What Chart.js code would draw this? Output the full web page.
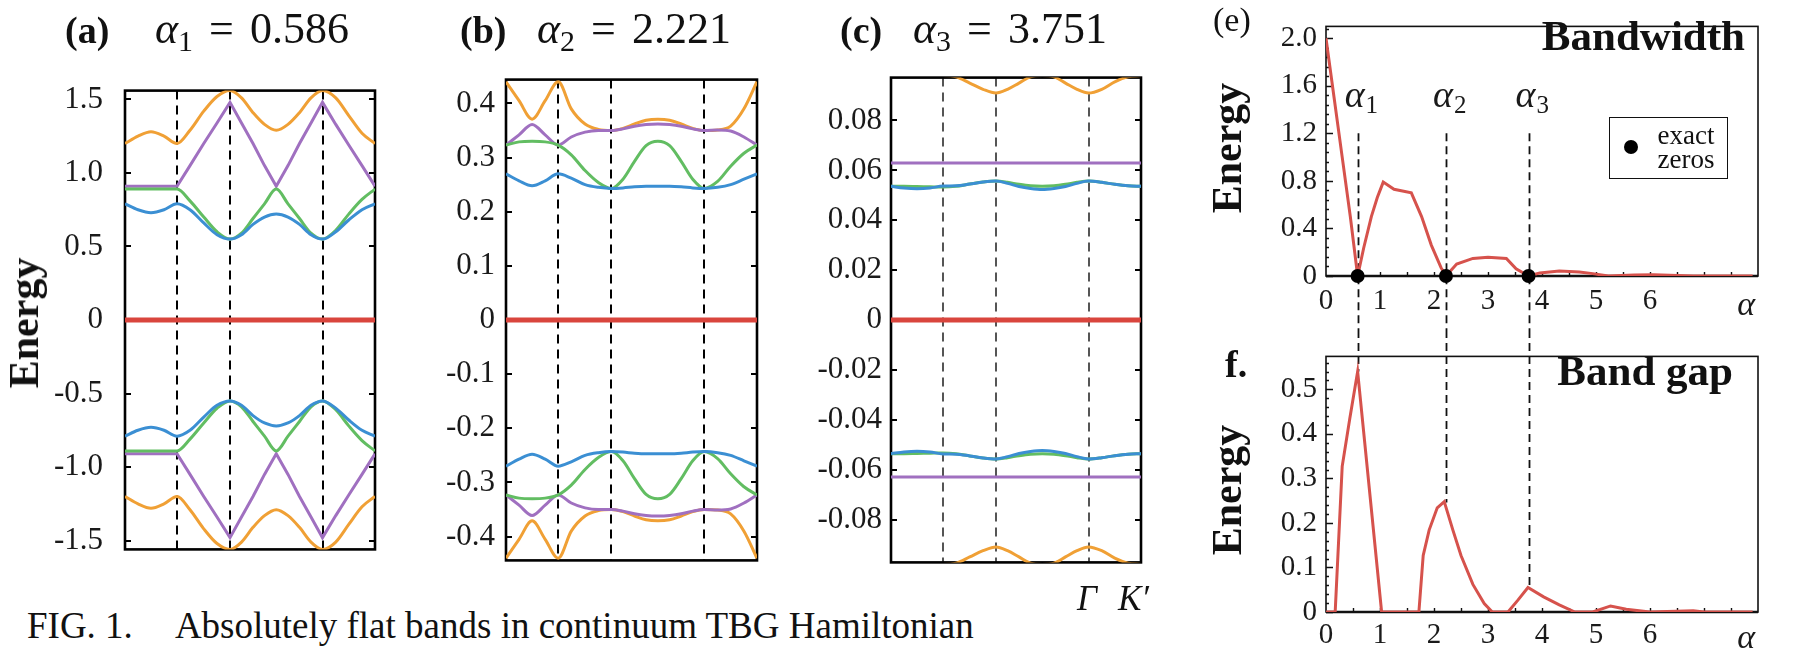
<!DOCTYPE html>
<html>
<head>
<meta charset="utf-8">
<script src="https://cdn.jsdelivr.net/npm/chart.js@4.4.0/dist/chart.umd.min.js"></script>
<style>
  body { margin: 0; background: #fff; }
  #fig { position: relative; width: 1799px; height: 650px; overflow: hidden; background: #fff;
         font-family: "Liberation Serif", "DejaVu Serif", serif; color: #111; }
  canvas { position: absolute; }
  .t { position: absolute; line-height: 1; white-space: nowrap; }
  .b { font-weight: bold; }
  .sub { font-size: 0.68em; position: relative; top: 0.28em; font-style: normal; }
  .vlab { font-weight: bold; font-size: 42px; transform: translate(-50%, -50%) rotate(-90deg); }
  #legend { position: absolute; left: 1609px; top: 117px; width: 119px; height: 62px;
            border: 1.6px solid #111; box-sizing: border-box; }
  #legend .dot { position: absolute; left: 14px; top: 22px; width: 14px; height: 14px; border-radius: 50%; background: #000; }
  #legend .txt { position: absolute; left: 42px; top: 5px; width: 68px; text-align: center; font-size: 27px; line-height: 24px; }
</style>
</head>
<body>
<div id="fig">
  <canvas id="cA" width="395" height="540" style="left:0;top:50px"></canvas>
  <canvas id="cB" width="390" height="540" style="left:395px;top:50px"></canvas>
  <canvas id="cC" width="400" height="540" style="left:785px;top:50px"></canvas>
  <canvas id="cE" width="614" height="330" style="left:1185px;top:0"></canvas>
  <canvas id="cF" width="614" height="320" style="left:1185px;top:330px"></canvas>

  <div class="t b" style="left:65px;top:11px;font-size:38px">(a)</div>
  <div class="t" style="left:155px;top:7px;font-size:44px"><i>α</i><span class="sub">1</span><span style="margin:0 16px">=</span>0.586</div>
  <div class="t b" style="left:460px;top:11px;font-size:38px">(b)</div>
  <div class="t" style="left:537px;top:7px;font-size:44px"><i>α</i><span class="sub">2</span><span style="margin:0 16px">=</span>2.221</div>
  <div class="t b" style="left:840px;top:11px;font-size:38px">(c)</div>
  <div class="t" style="left:913px;top:7px;font-size:44px"><i>α</i><span class="sub">3</span><span style="margin:0 16px">=</span>3.751</div>

  <div class="t vlab" style="left:24px;top:323px">Energy</div>
  <div class="t vlab" style="left:1227px;top:148px">Energy</div>
  <div class="t vlab" style="left:1227px;top:490px">Energy</div>

  <div class="t" style="left:1077px;top:581px;font-size:35px;font-style:italic">Γ</div>
  <div class="t" style="left:1118px;top:581px;font-size:35px;font-style:italic">K′</div>

  <div class="t" style="left:1213px;top:3px;font-size:34px">(e)</div>
  <div class="t b" style="right:54px;top:14px;font-size:43px">Bandwidth</div>
  <div class="t b" style="left:1225px;top:345px;font-size:38px">f.</div>
  <div class="t b" style="right:66px;top:349px;font-size:43px">Band gap</div>
  <div id="legend"><div class="dot"></div><div class="txt">exact<br>zeros</div></div>

  <div class="t" style="left:27px;top:607px;font-size:37px">FIG. 1.<span style="margin-left:42px">Absolutely flat bands in continuum TBG Hamiltonian</span></div>
</div>

<script>
// k-path coordinate (fraction of path) shared by the three band panels
const kPath = [0, 0.052, 0.104, 0.156, 0.208, 0.26, 0.315, 0.368, 0.42, 0.466, 0.512, 0.558, 0.605, 0.652, 0.698, 0.744, 0.79, 0.843, 0.895, 0.948, 1.0];
const kDashes = [0.208, 0.42, 0.79];
const flatBand = [0, 0, 0, 0, 0, 0, 0, 0, 0, 0, 0, 0, 0, 0, 0, 0, 0, 0, 0, 0, 0];

// (a) alpha1 = 0.586
const orangeUpA = [1.20, 1.25, 1.28, 1.25, 1.20, 1.29, 1.42, 1.52, 1.56, 1.51, 1.41, 1.33, 1.29, 1.33, 1.41, 1.51, 1.56, 1.51, 1.39, 1.27, 1.20];
const purpleUpA = [0.91, 0.91, 0.91, 0.91, 0.91, 1.05, 1.20, 1.34, 1.48, 1.34, 1.20, 1.05, 0.91, 1.05, 1.20, 1.34, 1.48, 1.33, 1.19, 1.05, 0.91];
const greenUpA = [0.89, 0.89, 0.89, 0.89, 0.89, 0.81, 0.70, 0.60, 0.55, 0.59, 0.69, 0.79, 0.89, 0.79, 0.69, 0.59, 0.55, 0.61, 0.72, 0.82, 0.89];
const blueUpA = [0.79, 0.75, 0.73, 0.75, 0.79, 0.75, 0.66, 0.58, 0.55, 0.58, 0.65, 0.70, 0.72, 0.70, 0.65, 0.58, 0.55, 0.60, 0.68, 0.75, 0.79];
const blueDnA = [-0.79, -0.75, -0.73, -0.75, -0.79, -0.75, -0.66, -0.58, -0.55, -0.58, -0.65, -0.70, -0.72, -0.70, -0.65, -0.58, -0.55, -0.60, -0.68, -0.75, -0.79];
const greenDnA = [-0.89, -0.89, -0.89, -0.89, -0.89, -0.81, -0.70, -0.60, -0.55, -0.59, -0.69, -0.79, -0.89, -0.79, -0.69, -0.59, -0.55, -0.61, -0.72, -0.82, -0.89];
const purpleDnA = [-0.91, -0.91, -0.91, -0.91, -0.91, -1.05, -1.20, -1.34, -1.48, -1.34, -1.20, -1.05, -0.91, -1.05, -1.20, -1.34, -1.48, -1.33, -1.19, -1.05, -0.91];
const orangeDnA = [-1.20, -1.25, -1.28, -1.25, -1.20, -1.29, -1.42, -1.52, -1.56, -1.51, -1.41, -1.33, -1.29, -1.33, -1.41, -1.51, -1.56, -1.51, -1.39, -1.27, -1.20];
const yTicksA = [-1.5, -1.0, -0.5, 0, 0.5, 1.0, 1.5];
const yLabelsA = ['-1.5', '-1.0', '-0.5', '0', '0.5', '1.0', '1.5'];

// (b) alpha2 = 2.221
const orangeUpB = [0.44, 0.405, 0.371, 0.405, 0.44, 0.39, 0.362, 0.352, 0.35, 0.354, 0.362, 0.369, 0.371, 0.369, 0.362, 0.354, 0.35, 0.351, 0.358, 0.39, 0.44];
const purpleUpB = [0.323, 0.342, 0.361, 0.342, 0.323, 0.338, 0.347, 0.35, 0.35, 0.353, 0.358, 0.361, 0.362, 0.361, 0.358, 0.353, 0.35, 0.351, 0.349, 0.338, 0.323];
const greenUpB = [0.323, 0.329, 0.33, 0.329, 0.323, 0.305, 0.276, 0.254, 0.243, 0.26, 0.293, 0.322, 0.33, 0.322, 0.293, 0.26, 0.243, 0.256, 0.284, 0.308, 0.323];
const blueUpB = [0.27, 0.257, 0.248, 0.257, 0.27, 0.262, 0.25, 0.245, 0.243, 0.244, 0.246, 0.247, 0.247, 0.247, 0.246, 0.244, 0.243, 0.245, 0.25, 0.26, 0.27];
const blueDnB = [-0.27, -0.257, -0.248, -0.257, -0.27, -0.262, -0.25, -0.245, -0.243, -0.244, -0.246, -0.247, -0.247, -0.247, -0.246, -0.244, -0.243, -0.245, -0.25, -0.26, -0.27];
const greenDnB = [-0.323, -0.329, -0.33, -0.329, -0.323, -0.305, -0.276, -0.254, -0.243, -0.26, -0.293, -0.322, -0.33, -0.322, -0.293, -0.26, -0.243, -0.256, -0.284, -0.308, -0.323];
const purpleDnB = [-0.323, -0.342, -0.361, -0.342, -0.323, -0.338, -0.347, -0.35, -0.35, -0.353, -0.358, -0.361, -0.362, -0.361, -0.358, -0.353, -0.35, -0.351, -0.349, -0.338, -0.323];
const orangeDnB = [-0.44, -0.405, -0.371, -0.405, -0.44, -0.39, -0.362, -0.352, -0.35, -0.354, -0.362, -0.369, -0.371, -0.369, -0.362, -0.354, -0.35, -0.351, -0.358, -0.39, -0.44];
const yTicksB = [-0.4, -0.3, -0.2, -0.1, 0, 0.1, 0.2, 0.3, 0.4];
const yLabelsB = ['-0.4', '-0.3', '-0.2', '-0.1', '0', '0.1', '0.2', '0.3', '0.4'];

// (c) alpha3 = 3.751
const orangeUpC = [0.098, 0.098, 0.098, 0.098, 0.098, 0.0975, 0.095, 0.0925, 0.091, 0.0925, 0.095, 0.0975, 0.098, 0.0975, 0.095, 0.0925, 0.091, 0.0925, 0.0955, 0.0975, 0.098];
const purpleUpC = [0.063, 0.063, 0.063, 0.063, 0.063, 0.063, 0.063, 0.063, 0.063, 0.063, 0.063, 0.063, 0.063, 0.063, 0.063, 0.063, 0.063, 0.063, 0.063, 0.063, 0.063];
const greenUpC = [0.0536, 0.0536, 0.0535, 0.0534, 0.0533, 0.0536, 0.0545, 0.0553, 0.0557, 0.0552, 0.0544, 0.0538, 0.0536, 0.0538, 0.0544, 0.0552, 0.0557, 0.0552, 0.0544, 0.0538, 0.0536];
const blueUpC = [0.0536, 0.0529, 0.0526, 0.0529, 0.0537, 0.0538, 0.0545, 0.0553, 0.0557, 0.0548, 0.0535, 0.0527, 0.0523, 0.0527, 0.0535, 0.0548, 0.0557, 0.0552, 0.0544, 0.0538, 0.0536];
const blueDnC = [-0.0536, -0.0529, -0.0526, -0.0529, -0.0537, -0.0538, -0.0545, -0.0553, -0.0557, -0.0548, -0.0535, -0.0527, -0.0523, -0.0527, -0.0535, -0.0548, -0.0557, -0.0552, -0.0544, -0.0538, -0.0536];
const greenDnC = [-0.0536, -0.0536, -0.0535, -0.0534, -0.0533, -0.0536, -0.0545, -0.0553, -0.0557, -0.0552, -0.0544, -0.0538, -0.0536, -0.0538, -0.0544, -0.0552, -0.0557, -0.0552, -0.0544, -0.0538, -0.0536];
const purpleDnC = [-0.063, -0.063, -0.063, -0.063, -0.063, -0.063, -0.063, -0.063, -0.063, -0.063, -0.063, -0.063, -0.063, -0.063, -0.063, -0.063, -0.063, -0.063, -0.063, -0.063, -0.063];
const orangeDnC = [-0.098, -0.098, -0.098, -0.098, -0.098, -0.0975, -0.095, -0.0925, -0.091, -0.0925, -0.095, -0.0975, -0.098, -0.0975, -0.095, -0.0925, -0.091, -0.0925, -0.0955, -0.0975, -0.098];
const yTicksC = [-0.08, -0.06, -0.04, -0.02, 0, 0.02, 0.04, 0.06, 0.08];
const yLabelsC = ['-0.08', '-0.06', '-0.04', '-0.02', '0', '0.02', '0.04', '0.06', '0.08'];

// (e) bandwidth and (f) band gap vs alpha
const alphaBW = [0, 0.15, 0.3, 0.45, 0.586, 0.7, 0.84, 0.95, 1.06, 1.26, 1.58, 1.77, 1.95, 2.13, 2.221, 2.42, 2.72, 3.0, 3.34, 3.52, 3.751, 3.96, 4.32, 4.69, 4.94, 5.23, 5.71, 6.07, 6.8, 7.9];
const bandwidth = [2.0, 1.50, 1.00, 0.50, 0.0, 0.24, 0.50, 0.66, 0.79, 0.73, 0.70, 0.50, 0.26, 0.07, 0.0, 0.10, 0.148, 0.158, 0.148, 0.06, 0.0, 0.026, 0.042, 0.034, 0.02, 0.0, 0.008, 0.01, 0.0, 0.0];
const alphaGap = [0, 0.17, 0.3, 0.44, 0.586, 1.03, 1.72, 1.80, 1.91, 2.06, 2.19, 2.35, 2.5, 2.72, 2.93, 3.08, 3.37, 3.55, 3.74, 4.03, 4.32, 4.61, 4.94, 5.27, 5.56, 6.0, 6.8, 7.0, 7.9];
const bandGap = [0, 0, 0.327, 0.434, 0.54, 0, 0, 0.127, 0.184, 0.234, 0.248, 0.184, 0.127, 0.062, 0.019, 0, 0, 0.026, 0.055, 0.034, 0.016, 0, 0, 0.0136, 0.006, 0, 0.003, 0, 0];
const zerosAlpha = [0.586, 2.221, 3.751];
const gapAtZeros = [0.54, 0.246, 0.053];
const alphaTicks = [0, 1, 2, 3, 4, 5, 6];
const alphaTickLabels = ['0', '1', '2', '3', '4', '5', '6'];
const yTicksE = [0, 0.4, 0.8, 1.2, 1.6, 2.0];
const yLabelsE = ['0', '0.4', '0.8', '1.2', '1.6', '2.0'];
const yTicksF = [0, 0.1, 0.2, 0.3, 0.4, 0.5];
const yLabelsF = ['0', '0.1', '0.2', '0.3', '0.4', '0.5'];

const ORANGE = '#f0a035', PURPLE = '#a070c0', GREEN = '#62bd62', BLUE = '#3b8fd3', RED = '#d9453d', CURVE = '#d6524c';
const SERIF = 'Liberation Serif';

function bandSet(ys, color, width, straight) {
  return {
    data: kPath.map((k, i) => ({ x: k, y: ys[i] })),
    borderColor: color,
    borderWidth: width,
    pointRadius: 0,
    fill: false,
    tension: 0,
    cubicInterpolationMode: straight ? 'default' : 'monotone'
  };
}

function yAxis(min, max, ticks, labels, width, pad, size) {
  return {
    type: 'linear', min: min, max: max,
    afterBuildTicks: s => { s.ticks = ticks.map(v => ({ value: v })); },
    afterFit: s => { s.width = width; },
    grid: { display: false, drawTicks: false },
    border: { display: false },
    ticks: { autoSkip: false, padding: pad, color: '#1a1a1a', font: { family: SERIF, size: size },
             callback: (v, i) => labels[i] }
  };
}

// frame, inward ticks on both sides and the dashed high-symmetry lines
function bandFrame(dashColor) {
  return {
    id: 'bandFrame',
    beforeDatasetsDraw(chart) {
      const { ctx, chartArea: a, scales: { x, y } } = chart;
      ctx.save();
      ctx.strokeStyle = dashColor;
      ctx.lineWidth = 2;
      ctx.setLineDash([9, 6]);
      kDashes.forEach(k => {
        const px = Math.round(x.getPixelForValue(k));
        ctx.beginPath(); ctx.moveTo(px, a.top); ctx.lineTo(px, a.bottom); ctx.stroke();
      });
      ctx.setLineDash([]);
      ctx.strokeStyle = '#000';
      ctx.lineWidth = 1.8;
      y.ticks.forEach(t => {
        const py = Math.round(y.getPixelForValue(t.value));
        ctx.beginPath();
        ctx.moveTo(a.left, py); ctx.lineTo(a.left + 6, py);
        ctx.moveTo(a.right, py); ctx.lineTo(a.right - 6, py);
        ctx.stroke();
      });
      ctx.lineWidth = 2.6;
      ctx.strokeRect(a.left, a.top, a.right - a.left, a.bottom - a.top);
      ctx.restore();
    }
  };
}

function bandChart(id, bands, yMax, ticks, labels, axisW, pad, padRight, dashColor, purpleStraight) {
  const [oU, pU, gU, bU, bD, gD, pD, oD] = bands;
  return new Chart(document.getElementById(id), {
    type: 'line',
    data: {
      datasets: [
        bandSet(flatBand, RED, 5, true),
        bandSet(bU, BLUE, 3), bandSet(bD, BLUE, 3),
        bandSet(gU, GREEN, 3), bandSet(gD, GREEN, 3),
        bandSet(pU, PURPLE, 3, purpleStraight), bandSet(pD, PURPLE, 3, purpleStraight),
        bandSet(oU, ORANGE, 3), bandSet(oD, ORANGE, 3)
      ]
    },
    options: {
      responsive: false, animation: false, devicePixelRatio: 1, events: [],
      layout: { padding: { top: 22, bottom: 15, left: 0, right: padRight } },
      plugins: { legend: { display: false }, tooltip: { enabled: false } },
      scales: {
        x: { type: 'linear', min: 0, max: 1, display: false },
        y: yAxis(-yMax, yMax, ticks, labels, axisW, pad, 31)
      }
    },
    plugins: [bandFrame(dashColor)]
  });
}

bandChart('cA', [orangeUpA, purpleUpA, greenUpA, blueUpA, blueDnA, greenDnA, purpleDnA, orangeDnA],
          1.56, yTicksA, yLabelsA, 125, 22, 20, '#000', true);
bandChart('cB', [orangeUpB, purpleUpB, greenUpB, blueUpB, blueDnB, greenDnB, purpleDnB, orangeDnB],
          0.444, yTicksB, yLabelsB, 111, 11, 28, '#000', false);
bandChart('cC', [orangeUpC, purpleUpC, greenUpC, blueUpC, blueDnC, greenDnC, purpleDnC, orangeDnC],
          0.0972, yTicksC, yLabelsC, 106, 9, 44, '#555', false);

// panels (e) and (f)
function alphaFrame(minorStep, dashFrom, dashTo, withLabels) {
  return {
    id: 'alphaFrame',
    beforeDatasetsDraw(chart) {
      const { ctx, chartArea: a, scales: { x, y } } = chart;
      ctx.save();
      ctx.strokeStyle = '#111';
      ctx.lineWidth = 1.6;
      ctx.strokeRect(a.left, a.top, a.right - a.left, a.bottom - a.top);
      ctx.lineWidth = 2.4;
      ctx.beginPath(); ctx.moveTo(a.left, a.bottom); ctx.lineTo(a.right, a.bottom); ctx.stroke();
      ctx.lineWidth = 1.4;
      ctx.beginPath();
      for (let v = 0; v <= y.max + 1e-9; v += minorStep) {
        const py = Math.round(y.getPixelForValue(v)) + 0.5;
        ctx.moveTo(a.left, py); ctx.lineTo(a.left + 3, py);
      }
      y.ticks.forEach(t => {
        const py = Math.round(y.getPixelForValue(t.value)) + 0.5;
        ctx.moveTo(a.left, py); ctx.lineTo(a.left + 7, py);
      });
      for (let v = 0.5; v < x.max; v += 0.5) {
        const px = Math.round(x.getPixelForValue(v)) + 0.5;
        ctx.moveTo(px, a.bottom); ctx.lineTo(px, a.bottom - 4);
      }
      ctx.stroke();
      ctx.lineWidth = 1.8;
      ctx.setLineDash([8, 5]);
      zerosAlpha.forEach((al, i) => {
        const px = Math.round(x.getPixelForValue(al)) + 0.5;
        ctx.beginPath(); ctx.moveTo(px, dashFrom(chart, i)); ctx.lineTo(px, dashTo(chart, i)); ctx.stroke();
      });
      ctx.restore();
    },
    afterDatasetsDraw(chart) {
      const { ctx, chartArea: a, scales: { x, y } } = chart;
      ctx.save();
      ctx.fillStyle = '#1a1a1a';
      ctx.textBaseline = 'alphabetic';
      ctx.font = 'italic 34px "' + SERIF + '"';
      ctx.textAlign = 'center';
      ctx.fillText('α', x.getPixelForValue(7.78), a.bottom + 39 - (chart.canvas.id === 'cF' ? 3 : 0));
      if (withLabels) {
        zerosAlpha.forEach((al, i) => {
          const px = x.getPixelForValue(al);
          ctx.textAlign = 'left';
          ctx.font = 'italic 38px "' + SERIF + '"';
          ctx.fillText('α', px - 13, 107);
          const w = ctx.measureText('α').width;
          ctx.font = '25px "' + SERIF + '"';
          ctx.fillText(String(i + 1), px - 13 + w + 1, 113);
        });
      }
      ctx.restore();
    }
  };
}

function alphaX(height, pad) {
  return {
    type: 'linear', min: 0, max: 8,
    afterBuildTicks: s => { s.ticks = alphaTicks.map(v => ({ value: v })); },
    afterFit: s => { s.height = height; },
    grid: { display: false, drawTicks: false },
    border: { display: false },
    ticks: { autoSkip: false, maxRotation: 0, padding: pad, color: '#1a1a1a', font: { family: SERIF, size: 29 },
             callback: (v, i) => alphaTickLabels[i] }
  };
}

new Chart(document.getElementById('cE'), {
  type: 'line',
  data: {
    datasets: [
      { data: zerosAlpha.map(a => ({ x: a, y: 0 })), showLine: false, pointRadius: 7, pointBorderWidth: 0,
        pointBackgroundColor: '#000', clip: false },
      { data: alphaBW.map((a, i) => ({ x: a, y: bandwidth[i] })), borderColor: CURVE, borderWidth: 3,
        pointRadius: 0, tension: 0, fill: false }
    ]
  },
  options: {
    responsive: false, animation: false, devicePixelRatio: 1, events: [],
    layout: { padding: { top: 11, bottom: 0, left: 0, right: 41 } },
    plugins: { legend: { display: false }, tooltip: { enabled: false } },
    scales: {
      x: alphaX(54, 8),
      y: yAxis(0, 2.1, yTicksE, yLabelsE, 141, 9, 29)
    }
  },
  plugins: [alphaFrame(0.08, (c) => c.scales.y.getPixelForValue(1.2), (c) => c.height, true)]
});

new Chart(document.getElementById('cF'), {
  type: 'line',
  data: {
    datasets: [
      { data: alphaGap.map((a, i) => ({ x: a, y: bandGap[i] })), borderColor: CURVE, borderWidth: 3,
        pointRadius: 0, tension: 0, fill: false }
    ]
  },
  options: {
    responsive: false, animation: false, devicePixelRatio: 1, events: [],
    layout: { padding: { top: 15, bottom: 0, left: 0, right: 41 } },
    plugins: { legend: { display: false }, tooltip: { enabled: false } },
    scales: {
      x: alphaX(38, 6),
      y: yAxis(0, 0.574, yTicksF, yLabelsF, 141, 9, 29)
    }
  },
  plugins: [alphaFrame(0.02, () => 0, (c, i) => c.scales.y.getPixelForValue(gapAtZeros[i]), false)]
});
</script>
</body>
</html>
